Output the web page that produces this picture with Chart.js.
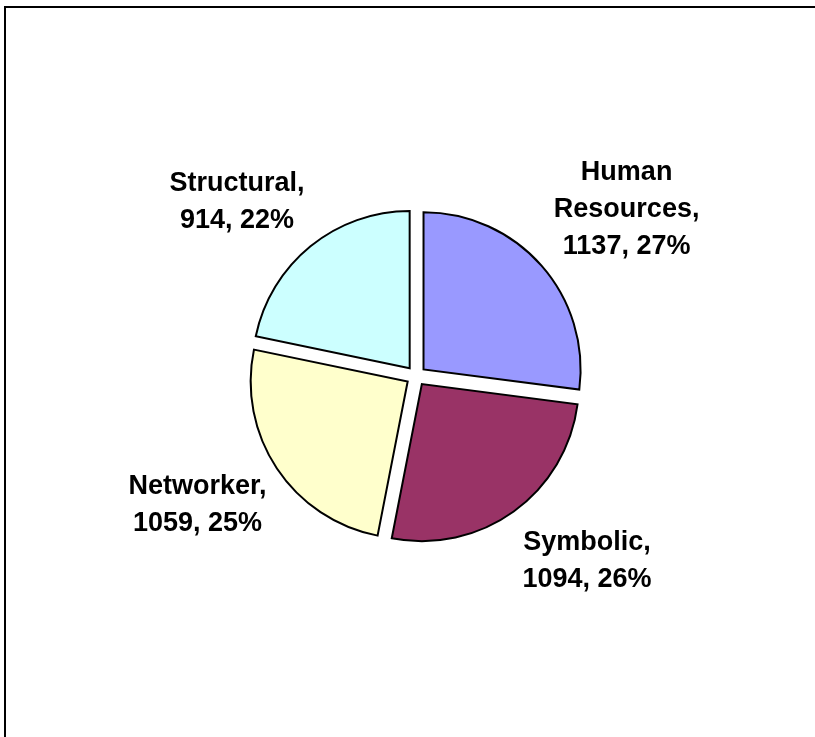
<!DOCTYPE html>
<html>
<head>
<meta charset="utf-8">
<script src="https://cdn.jsdelivr.net/npm/chart.js@4/dist/chart.umd.min.js"></script>
<style>
  html, body { margin: 0; padding: 0; background: #fff; overflow: hidden; }
  #wrap { position: relative; width: 815px; height: 737px; overflow: hidden; }
  #frame {
    position: absolute; left: 4px; top: 6px; width: 900px; height: 900px;
    border-top: 2px solid #000; border-left: 2px solid #000;
  }
  canvas { position: absolute; left: 0; top: 0; }
</style>
</head>
<body>
<div id="wrap">
  <div id="frame"></div>
  <canvas id="chart" width="815" height="737"></canvas>
</div>
<script>
// Frame categories and their counts
const categories = ['Human Resources', 'Symbolic', 'Networker', 'Structural'];
const counts = [1137, 1094, 1059, 914];
const sliceColors = ['#9999FF', '#993366', '#FFFFCC', '#CCFFFF'];

const LABEL_FONT = 'bold 27px "Liberation Sans", Arial, sans-serif';
const LINE_HEIGHT = 37;
const WRAP_WIDTH = 150;
const LABEL_GAP = 30;

// Greedy word wrap of a label into lines that fit the given width
function wrapText(ctx, text, maxWidth) {
  const words = text.split(' ');
  const lines = [];
  let line = '';
  for (const w of words) {
    const test = line ? line + ' ' + w : w;
    if (line && ctx.measureText(test).width > maxWidth) {
      lines.push(line);
      line = w;
    } else {
      line = test;
    }
  }
  if (line) lines.push(line);
  return lines;
}

// Draws "Category, value, pct%" outside the end of each slice
const outsideLabels = {
  id: 'outsideLabels',
  afterDatasetsDraw(chart, args, opts) {
    const ctx = chart.ctx;
    const meta = chart.getDatasetMeta(0);
    const data = chart.data.datasets[0].data;
    const total = data.reduce((a, b) => a + b, 0);
    const nudge = opts.nudge || [];
    ctx.save();
    ctx.font = LABEL_FONT;
    ctx.fillStyle = '#000';
    ctx.textAlign = 'center';
    ctx.textBaseline = 'middle';
    meta.data.forEach((arc, i) => {
      const p = arc.getProps(['x', 'y', 'startAngle', 'endAngle', 'outerRadius']);
      const mid = (p.startAngle + p.endAngle) / 2;
      const dx = Math.cos(mid), dy = Math.sin(mid);
      const shift = (arc.options.offset || 0) / 4;
      const dist = p.outerRadius + shift + LABEL_GAP;
      const ax = p.x + dx * dist, ay = p.y + dy * dist;
      const pct = Math.round(data[i] / total * 100);
      const text = chart.data.labels[i] + ', ' + data[i] + ', ' + pct + '%';
      const lines = wrapText(ctx, text, WRAP_WIDTH);
      const w = Math.max(...lines.map(l => ctx.measureText(l).width));
      const h = lines.length * LINE_HEIGHT;
      const [nx, ny] = nudge[i] || [0, 0];
      const cx = ax + dx * w / 2 + nx;
      const cy = ay + dy * h / 2 + ny;
      lines.forEach((l, k) => {
        ctx.fillText(l, cx, cy - h / 2 + LINE_HEIGHT * (k + 0.5));
      });
    });
    ctx.restore();
  }
};

new Chart(document.getElementById('chart'), {
  type: 'pie',
  data: {
    labels: categories,
    datasets: [{
      data: counts,
      backgroundColor: sliceColors,
      borderColor: '#000',
      borderWidth: 2,
      borderJoinStyle: 'miter',
      offset: 40
    }]
  },
  options: {
    responsive: false,
    animation: false,
    radius: 157,
    layout: { padding: { left: 17, right: 0, top: 15, bottom: 0 } },
    plugins: {
      legend: { display: false },
      tooltip: { enabled: false },
      outsideLabels: { nudge: [[8, 0], [18, -5], [3, 0], [-12, 8]] }
    }
  },
  plugins: [outsideLabels]
});
</script>
</body>
</html>
